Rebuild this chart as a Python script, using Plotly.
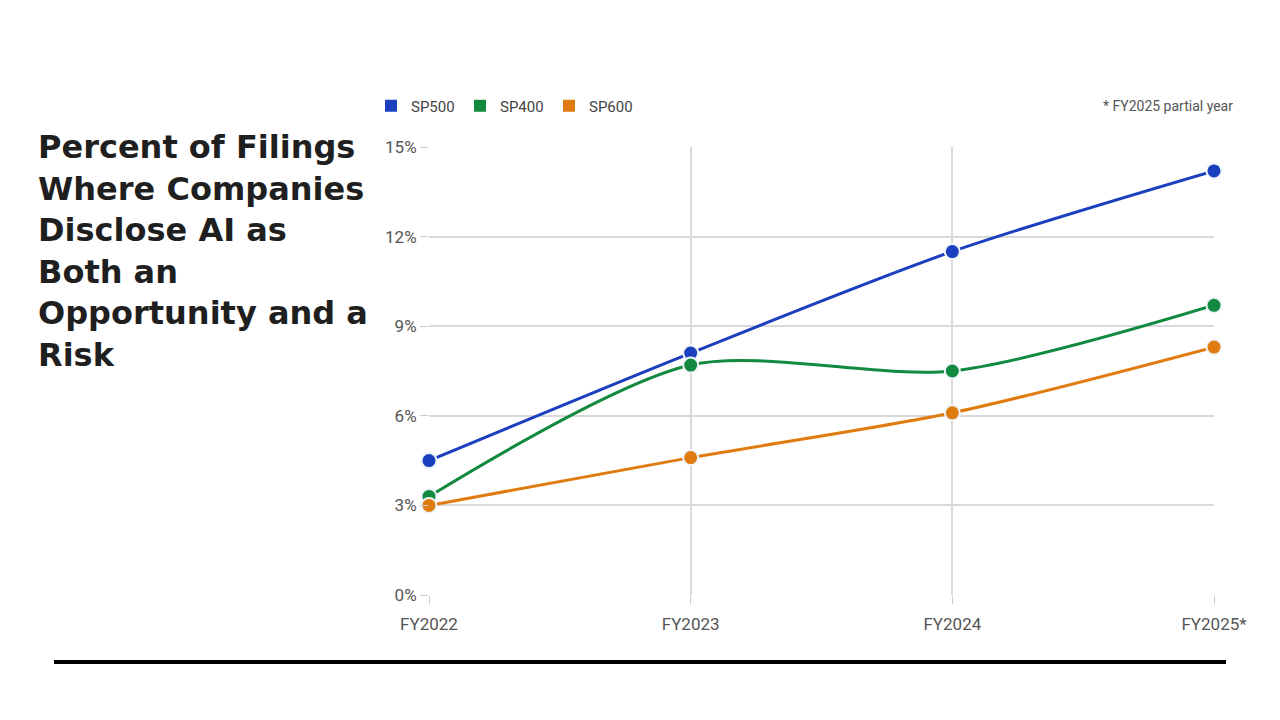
import plotly.graph_objects as go

# Data
years = ["FY2022", "FY2023", "FY2024", "FY2025*"]
pct_ticks = [0, 3, 6, 9, 12, 15]
pct_labels = ["0%", "3%", "6%", "9%", "12%", "15%"]
sp500 = [4.5, 8.1, 11.5, 14.2]
sp400 = [3.3, 7.7, 7.5, 9.7]
sp600 = [3.0, 4.6, 6.1, 8.3]

series = [
    ("SP500", sp500, "#1a3fbf"),
    ("SP400", sp400, "#11893f"),
    ("SP600", sp600, "#e07b10"),
]

fig = go.Figure()

for name, vals, color in series:
    fig.add_trace(go.Scatter(
        x=years,
        y=vals,
        mode="lines+markers",
        name=name,
        line=dict(color=color, width=3, shape="spline", smoothing=0.8),
        marker=dict(size=15, color=color, line=dict(color="#eef4f8", width=2)),
        cliponaxis=False,
        showlegend=False,
    ))

# legend-only entries with square swatches
for name, vals, color in series:
    fig.add_trace(go.Scatter(
        x=[None], y=[None],
        mode="markers",
        name=name,
        marker=dict(size=12, color=color, symbol="square"),
        showlegend=True,
    ))

# page body has an 8px margin, so the figure is placed at (8, 8)
fig.update_layout(
    width=1280,
    height=720,
    paper_bgcolor="white",
    plot_bgcolor="white",
    margin=dict(l=421, r=74, t=139, b=133),
    title=dict(
        text="Percent of Filings<br>Where Companies<br>Disclose AI as<br>Both an<br>Opportunity and a<br>Risk",
        x=30 / 1280,
        xanchor="left",
        xref="container",
        y=1 - 150 / 720,
        yanchor="top",
        yref="container",
        font=dict(family="DejaVu Sans", size=32, color="#1f1f1f", weight="bold"),
    ),
    xaxis=dict(
        type="category",
        range=[0, 3],
        showgrid=True,
        gridcolor="#d9d9d9",
        gridwidth=1.5,
        zeroline=False,
        ticks="outside",
        ticklen=8,
        tickcolor="#cccccc",
        ticklabelstandoff=6,
        tickfont=dict(family="Roboto", size=17, color="#555555"),
        showline=False,
    ),
    yaxis=dict(
        range=[0, 15],
        tickmode="array",
        tickvals=pct_ticks,
        ticktext=pct_labels,
        showgrid=True,
        gridcolor="#d9d9d9",
        gridwidth=1.5,
        zeroline=False,
        ticks="outside",
        ticklen=8,
        tickcolor="#cccccc",
        tickfont=dict(family="Roboto", size=17, color="#555555"),
        showline=False,
    ),
    legend=dict(
        orientation="h",
        x=(371 - 429) / 785,
        xanchor="left",
        y=(595 - 106) / 448,
        yanchor="middle",
        font=dict(family="Roboto", size=15, color="#444444"),
        itemsizing="constant",
        entrywidth=44,
        bgcolor="rgba(0,0,0,0)",
    ),
    annotations=[
        dict(
            text="* FY2025 partial year",
            xref="paper", yref="paper",
            x=(1235 - 429) / 785, xanchor="right",
            y=(595 - 106) / 448, yanchor="middle",
            showarrow=False,
            font=dict(family="Roboto", size=14, color="#555555"),
        )
    ],
    shapes=[
        dict(
            type="line",
            xref="paper", yref="paper",
            x0=(54 - 429) / 785, x1=(1226 - 429) / 785,
            y0=(595 - 662) / 448, y1=(595 - 662) / 448,
            line=dict(color="black", width=4),
        )
    ],
)

fig.write_html("out.html")
